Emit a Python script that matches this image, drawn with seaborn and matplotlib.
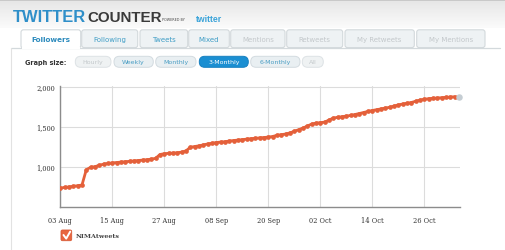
import numpy as np
import pandas as pd
import matplotlib
matplotlib.use("Agg")
import matplotlib.pyplot as plt
import matplotlib.dates as mdates
import seaborn as sns
from matplotlib.patches import FancyBboxPatch, Rectangle

# ---------------- data ----------------
start_date = "2010-08-03"
followers = [
    731, 738, 745, 752, 760, 768, 960, 990, 998, 1015,
    1030, 1038, 1045, 1050, 1055, 1060, 1065, 1070, 1075, 1080,
    1085, 1092, 1102, 1150, 1160, 1165, 1168, 1172, 1180, 1195,
    1240, 1250, 1258, 1270, 1282, 1290, 1300, 1305, 1310, 1318,
    1325, 1330, 1336, 1342, 1348, 1352, 1358, 1362, 1368, 1375,
    1390, 1398, 1406, 1420, 1440, 1460, 1480, 1505, 1530, 1542,
    1548, 1555, 1580, 1605, 1615, 1622, 1630, 1638, 1650, 1662,
    1675, 1688, 1700, 1710, 1720, 1730, 1740, 1755, 1770, 1781,
    1790, 1800, 1815, 1830, 1840, 1848, 1852, 1856, 1860, 1864,
    1868, 1872,
]
today_value = 1868
x_tick_labels = ["03 Aug", "15 Aug", "27 Aug", "08 Sep", "20 Sep", "02 Oct", "14 Oct", "26 Oct"]
y_ticks = [1000, 1500, 2000]
y_tick_labels = ["1,000", "1,500", "2,000"]
tabs = ["Followers", "Following", "Tweets", "Mixed", "Mentions", "Retweets", "My Retweets", "My Mentions"]
tab_enabled = [True, True, True, True, False, False, False, False]
graph_sizes = ["Hourly", "Weekly", "Monthly", "3-Monthly", "6-Monthly", "All"]
graph_size_state = ["off", "on", "on", "active", "on", "off"]
series_name = "NIMAtweets"

dates = pd.date_range(start_date, periods=len(followers), freq="D")
df = pd.DataFrame({"date": dates, "followers": followers})
today_df = pd.DataFrame({"date": [dates[-1] + pd.Timedelta(days=1)], "followers": [today_value]})

# ---------------- figure ----------------
sns.set_style("white")
plt.rcParams["font.family"] = ["DejaVu Sans"]
W, H = 505, 251
fig = plt.figure(figsize=(W / 100, H / 100), dpi=100)
fig.patch.set_facecolor("white")

bg = fig.add_axes([0, 0, 1, 1], zorder=0)
bg.set_xlim(0, W)
bg.set_ylim(H, 0)
bg.axis("off")

# header gradient
grad = np.linspace(0, 1, 60).reshape(-1, 1)
c0 = np.array([0.90, 0.90, 0.90])
c1 = np.array([0.985, 0.985, 0.985])
img = c0[None, None, :] * (1 - grad[:, :, None]) + c1[None, None, :] * grad[:, :, None]
bg.imshow(img, extent=[0, W, 29, 0], aspect="auto", zorder=0)
bg.add_patch(Rectangle((0, 0), W, 1.5, color="#c9c9c9", lw=0, zorder=1))

# logo
bg.text(12.8, 17.5, "TWITTER", family="Liberation Sans", weight="bold", fontsize=11.9,
        color="#2f8fc9", va="center", ha="left", zorder=2)
bg.text(87.0, 17.5, "COUNTER", family="Liberation Sans", weight="bold", fontsize=10.9,
        color="#3a3a3a", va="center", ha="left", zorder=2)
bg.text(162, 20, "POWERED BY", fontsize=2.4, color="#444444", va="center", ha="left", zorder=2)
bg.text(196, 19.5, "twitter", family="Liberation Sans", weight="bold", fontsize=6.2,
        color="#3aa3d9", va="center", ha="left", zorder=2)

# tabs
tab_x = [(21, 80.7), (81.7, 137.7), (140, 187.7), (188.7, 229.3), (230.7, 285),
         (286.7, 342.7), (345, 414.3), (416.7, 485)]
tab_top, tab_bot = 30.8, 48.6
bg.plot([11, 500], [tab_bot, tab_bot], color="#d3d9dc", lw=0.9, zorder=2)
for i, (name, en) in enumerate(zip(tabs, tab_enabled)):
    x0, x1 = tab_x[i]
    active = i == 0
    fc = "white" if active else "#eef2f4"
    p = FancyBboxPatch((x0, tab_top), x1 - x0, tab_bot - tab_top + (0.6 if active else 0),
                       boxstyle="round,pad=0,rounding_size=2.5",
                       fc=fc, ec="#d3d9dc", lw=0.8, zorder=3)
    bg.add_patch(p)
    if active:
        bg.add_patch(Rectangle((x0 + 0.5, tab_bot - 1), x1 - x0 - 1, 2.2, color="white", lw=0, zorder=4))
    col = ("#2d8bbd" if active else "#3f9dc6") if en else "#c3c8cb"
    bg.text((x0 + x1) / 2, 39.8, name, fontsize=5.2 if active else 5.0,
            weight="bold" if active else "normal", color=col,
            ha="center", va="center", zorder=5)

# graph size pills
bg.text(25, 62.8, "Graph size:", fontsize=4.7, weight="bold", color="#333333",
        ha="left", va="center", zorder=5)
pill_x = [(75.3, 111), (114, 153.3), (155.7, 196), (199.3, 248.3), (250.7, 300), (302.3, 323.3)]
pill_top, pill_bot = 57.3, 68.3
for i, (name, st) in enumerate(zip(graph_sizes, graph_size_state)):
    x0, x1 = pill_x[i]
    if st == "active":
        fc, ec, tc = "#1b8fd2", "#1780c0", "white"
    elif st == "on":
        fc, ec, tc = "#e9eff2", "#d3dbe0", "#4a9ec4"
    else:
        fc, ec, tc = "#eff2f3", "#dde2e5", "#c3c8cb"
    p = FancyBboxPatch((x0, pill_top), x1 - x0, pill_bot - pill_top,
                       boxstyle="round,pad=0,rounding_size=5.4",
                       fc=fc, ec=ec, lw=0.7, zorder=3)
    bg.add_patch(p)
    bg.text((x0 + x1) / 2, 62.9, name, fontsize=4.5, color=tc,
            ha="center", va="center", zorder=5)

# left page border
bg.plot([11, 11], [tab_bot, H], color="#e2e2e2", lw=0.8, zorder=2)

# legend
bg.add_patch(FancyBboxPatch((61, 231), 10.7, 10.7, boxstyle="round,pad=0,rounding_size=1.5",
                            fc="#e8663f", ec="#d85a35", lw=0.6, zorder=3))
bg.plot([63.5, 66.2, 70.2], [236.0, 239.6, 232.6], color="white", lw=1.4,
        solid_capstyle="round", solid_joinstyle="round", zorder=4)
bg.text(75.5, 236.8, series_name, family="DejaVu Serif", fontsize=4.6, weight="bold",
        color="#444444", ha="left", va="center", zorder=5)

# ---------------- chart ----------------
px_left, px_right = 60.3, 460.0
px_bottom = 207.5
ymin, ymax = 500, 2010
px_per_unit = 40 / 500
px_top = px_bottom - (ymax - ymin) * px_per_unit
ax = fig.add_axes([px_left / W, (H - px_bottom) / H, (px_right - px_left) / W,
                   (px_bottom - px_top) / H], zorder=1)
ax.patch.set_alpha(0)

line_color = "#e4603a"
sns.lineplot(data=df, x="date", y="followers", ax=ax, color=line_color, lw=2.0,
             marker="o", markersize=3.4, markeredgewidth=0, zorder=3)
sns.scatterplot(data=today_df, x="date", y="followers", ax=ax, color="#c5cdd3",
                s=22, linewidth=0, zorder=4, clip_on=False)

start = pd.Timestamp(start_date)
ax.set_xlim(start, start + pd.Timedelta(days=92.25))
ax.set_ylim(ymin, ymax)
xt = pd.date_range(start, periods=len(x_tick_labels), freq="12D")
ax.set_xticks(xt)
ax.set_xticklabels(x_tick_labels)
ax.set_yticks(y_ticks)
ax.set_yticklabels(y_tick_labels)
ax.set_xlabel("")
ax.set_ylabel("")

ax.grid(True, color="#dcdcdc", lw=0.8)
ax.set_axisbelow(True)
for s in ["top", "right"]:
    ax.spines[s].set_visible(False)
for s in ["left", "bottom"]:
    ax.spines[s].set_color("#8c8c8c")
    ax.spines[s].set_linewidth(1.0)
ax.tick_params(axis="x", length=0, pad=7.0, labelsize=4.8, labelcolor="#333333")
ax.tick_params(axis="y", length=0, pad=4.0, labelsize=4.8, labelcolor="#333333")
for lab in ax.get_xticklabels() + ax.get_yticklabels():
    lab.set_family("DejaVu Serif")

fig.savefig("out.png", dpi=100, facecolor="white")
